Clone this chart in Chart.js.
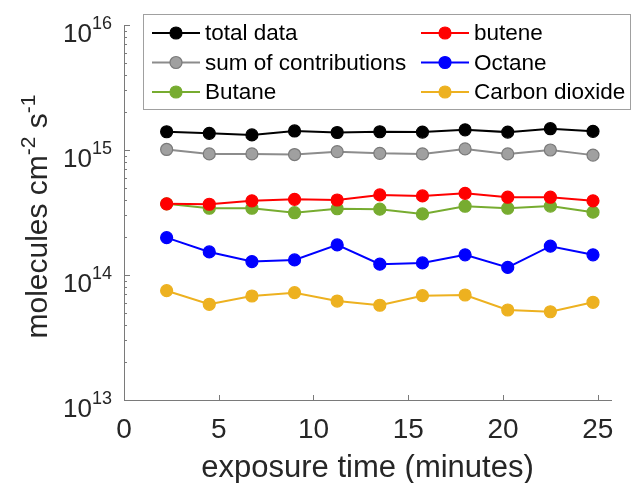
<!DOCTYPE html>
<html>
<head>
<meta charset="utf-8">
<script src="https://cdn.jsdelivr.net/npm/chart.js@4/dist/chart.umd.min.js"></script>
<style>
  html, body { margin: 0; padding: 0; background: #fff; }
  #wrap { width: 632px; height: 483px; }
</style>
</head>
<body>
<div id="wrap"><canvas id="chart" width="632" height="483"></canvas></div>
<script>
// exposure time (minutes)
const times = [2.25, 4.5, 6.75, 9, 11.25, 13.5, 15.75, 18, 20.25, 22.5, 24.75];

// molecules cm^-2 s^-1
const totalData  = [1.40e15, 1.36e15, 1.32e15, 1.42e15, 1.38e15, 1.40e15, 1.39e15, 1.45e15, 1.39e15, 1.48e15, 1.41e15];
const sumContrib = [1.01e15, 9.3e14, 9.3e14, 9.2e14, 9.7e14, 9.4e14, 9.3e14, 1.02e15, 9.3e14, 1.0e15, 9.1e14];
const butane     = [3.71e14, 3.42e14, 3.42e14, 3.15e14, 3.39e14, 3.36e14, 3.08e14, 3.55e14, 3.42e14, 3.56e14, 3.18e14];
const butene     = [3.71e14, 3.68e14, 3.92e14, 4.03e14, 3.98e14, 4.37e14, 4.29e14, 4.50e14, 4.19e14, 4.19e14, 3.92e14];
const octane     = [1.99e14, 1.53e14, 1.28e14, 1.32e14, 1.74e14, 1.22e14, 1.25e14, 1.45e14, 1.15e14, 1.70e14, 1.45e14];
const co2        = [7.49e13, 5.83e13, 6.79e13, 7.22e13, 6.19e13, 5.73e13, 6.83e13, 6.92e13, 5.25e13, 5.08e13, 6.05e13];

const seriesNames = ["total data", "sum of contributions", "Butane", "butene", "Octane", "Carbon dioxide"];
const seriesValues = [totalData, sumContrib, butane, butene, octane, co2];
const lineColors = ["#000000", "#8c8c8c", "#77ac30", "#ff0000", "#0000ff", "#edb120"];
const fillColors = ["#000000", "#a0a0a0", "#77ac30", "#ff0000", "#0000ff", "#edb120"];
const edgeColors = ["#000000", "#7a7a7a", "#77ac30", "#ff0000", "#0000ff", "#edb120"];

const xTicks = [0, 5, 10, 15, 20, 25];
const yDecades = [13, 14, 15, 16];

const FONT = "'Liberation Sans', Arial, sans-serif";
const TEXT = "#262626";
const AXIS = "#7a7a7a";

const datasets = seriesNames.map((name, i) => ({
  label: name,
  data: times.map((t, k) => ({ x: t, y: seriesValues[i][k] })),
  borderColor: lineColors[i],
  backgroundColor: fillColors[i],
  pointBackgroundColor: fillColors[i],
  pointBorderColor: edgeColors[i],
  pointBorderWidth: 1.2,
  pointRadius: 6,
  borderWidth: 2,
  tension: 0,
  order: seriesNames.length - i
}));

// inward ticks, tick labels and axis titles (MATLAB look)
const axesDeco = {
  id: 'axesDeco',
  afterDraw(chart) {
    const ctx = chart.ctx;
    const xs = chart.scales.x, ys = chart.scales.y;
    const area = chart.chartArea;
    ctx.save();
    ctx.strokeStyle = AXIS;
    ctx.lineWidth = 1;

    // x ticks (pointing up)
    ctx.beginPath();
    xTicks.forEach(v => {
      const px = Math.round(xs.getPixelForValue(v)) + 0.5;
      ctx.moveTo(px, area.bottom);
      ctx.lineTo(px, area.bottom - 5);
    });
    // y ticks (pointing right), major + minor
    yDecades.forEach((e, j) => {
      const py = Math.round(ys.getPixelForValue(Math.pow(10, e))) + 0.5;
      ctx.moveTo(area.left, py);
      ctx.lineTo(area.left + 6, py);
      if (j < yDecades.length - 1) {
        for (let m = 2; m <= 9; m++) {
          const pm = Math.round(ys.getPixelForValue(m * Math.pow(10, e))) + 0.5;
          ctx.moveTo(area.left, pm);
          ctx.lineTo(area.left + 3, pm);
        }
      }
    });
    ctx.stroke();

    ctx.fillStyle = TEXT;
    // x tick labels
    ctx.font = "28px " + FONT;
    ctx.textAlign = "center";
    ctx.textBaseline = "alphabetic";
    xTicks.forEach(v => {
      ctx.fillText(String(v), xs.getPixelForValue(v), area.bottom + 38);
    });

    // y tick labels 10^e
    yDecades.forEach(e => {
      const py = ys.getPixelForValue(Math.pow(10, e));
      const right = area.left - 12;
      ctx.textAlign = "right";
      ctx.font = "18px " + FONT;
      const sup = String(e);
      const supW = ctx.measureText(sup).width;
      ctx.fillText(sup, right, py + 3.5);
      ctx.font = "26px " + FONT;
      ctx.fillText("10", right - supW, py + 17);
    });

    // x title
    ctx.textAlign = "center";
    ctx.font = "31px " + FONT;
    ctx.fillText("exposure time (minutes)", (area.left + area.right) / 2, 477);

    // y title with superscripts
    const parts = [
      { t: "molecules cm", sup: false },
      { t: "-2", sup: true },
      { t: " s", sup: false },
      { t: "-1", sup: true }
    ];
    const big = "30px " + FONT, small = "21px " + FONT;
    let total = 0;
    parts.forEach(p => { ctx.font = p.sup ? small : big; p.w = ctx.measureText(p.t).width; total += p.w; });
    ctx.translate(47, (area.top + area.bottom) / 2 + 4);
    ctx.rotate(-Math.PI / 2);
    ctx.textAlign = "left";
    let cx = -total / 2;
    parts.forEach(p => {
      ctx.font = p.sup ? small : big;
      ctx.fillText(p.t, cx, p.sup ? -12 : 0);
      cx += p.w;
    });
    ctx.restore();

    // legend box, two columns filled top to bottom
    ctx.save();
    ctx.fillStyle = "#ffffff";
    ctx.fillRect(143.5, 14.5, 487, 95);
    ctx.strokeStyle = "#a0a0a0";
    ctx.lineWidth = 1;
    ctx.strokeRect(143.5, 14.5, 487, 95);
    const colX = [152, 421];
    const rowY = [33, 62.5, 92];
    ctx.font = "22.5px " + FONT;
    ctx.textAlign = "left";
    ctx.textBaseline = "alphabetic";
    chart.data.datasets.forEach((ds, i) => {
      const x0 = colX[Math.floor(i / 3)];
      const y0 = rowY[i % 3];
      ctx.strokeStyle = ds.borderColor;
      ctx.lineWidth = 2;
      ctx.beginPath();
      ctx.moveTo(x0, y0);
      ctx.lineTo(x0 + 48, y0);
      ctx.stroke();
      ctx.beginPath();
      ctx.arc(x0 + 24, y0, 6, 0, Math.PI * 2);
      ctx.fillStyle = ds.pointBackgroundColor;
      ctx.fill();
      ctx.lineWidth = 1.2;
      ctx.strokeStyle = ds.pointBorderColor;
      ctx.stroke();
      ctx.fillStyle = "#000000";
      ctx.fillText(ds.label, x0 + 53, y0 + 7);
    });
    ctx.restore();
  }
};

const ctx = document.getElementById("chart").getContext("2d");
new Chart(ctx, {
  type: "line",
  data: { datasets: datasets },
  plugins: [axesDeco],
  options: {
    responsive: false,
    animation: false,
    layout: { padding: { left: 124, right: 21, top: 25, bottom: 83 } },
    plugins: {
      legend: { display: false },
      tooltip: { enabled: false }
    },
    scales: {
      x: {
        type: "linear",
        min: 0,
        max: 25.7,
        grid: { display: false, drawTicks: false },
        border: { display: true, color: AXIS, width: 1 },
        ticks: { display: false }
      },
      y: {
        type: "logarithmic",
        min: 1e13,
        max: 1e16,
        grid: { display: false, drawTicks: false },
        border: { display: true, color: AXIS, width: 1 },
        ticks: { display: false }
      }
    }
  }
});
</script>
</body>
</html>
